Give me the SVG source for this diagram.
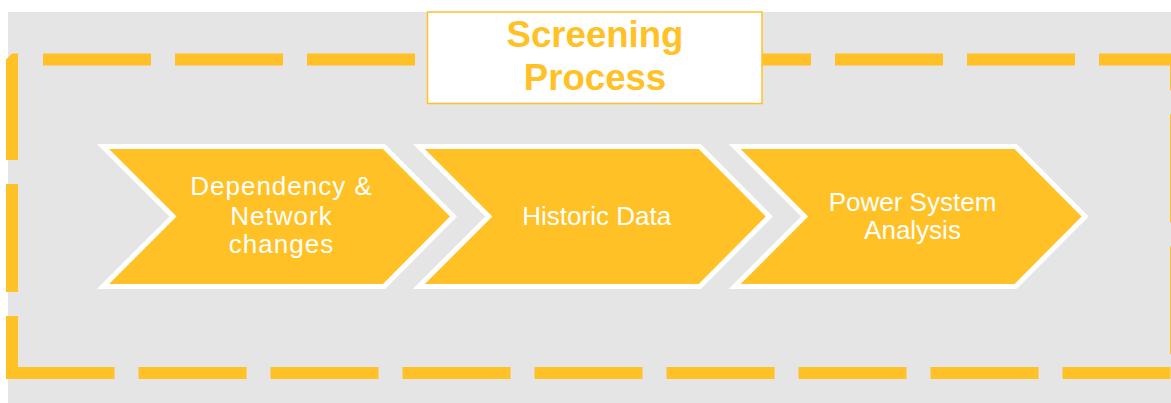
<svg xmlns="http://www.w3.org/2000/svg" width="1171" height="403" viewBox="0 0 1171 403">
  <style>
    .frame { fill: none; stroke: #FFC125; stroke-width: 12; stroke-linecap: butt; }
    .chev { fill: #FFC125; stroke: #FFFFFF; stroke-width: 5; stroke-linejoin: miter; stroke-miterlimit: 10; }
    .lbl { font-family: "Liberation Sans", Arial, sans-serif; font-size: 26px; fill: #FFFFFF; text-anchor: middle; }
    .title { font-family: "Liberation Sans", Arial, sans-serif; font-size: 36.6px; font-weight: bold; fill: #FFC125; text-anchor: middle; }
  </style>
  <rect x="0" y="0" width="1171" height="403" fill="#FFFFFF"/>
  <rect x="8" y="12" width="1163" height="391" fill="#E5E5E5"/>
  <g id="frame">
    <path class="frame" d="M43 59.5 H1176 V373 H12" stroke-dasharray="108 24" stroke-linejoin="miter"/>
    <path class="frame" d="M18 59.5 H12 V379" stroke-dasharray="106.5 24 108 24 70 10" stroke-linejoin="bevel"/>
  </g>
  <g id="title">
    <rect x="427.5" y="12" width="334.5" height="91.5" fill="#FFFFFF" stroke="#FFC125" stroke-width="1.5"/>
    <text class="title" x="595" y="47">Screening</text>
    <text class="title" x="595" y="90">Process</text>
  </g>
  <g id="connectors"></g>
  <g id="node1">
    <polygon class="chev" points="103,146.5 384,146.5 453.5,216.5 384,286.5 103,286.5 173,216.5"/>
    <text class="lbl" x="281.5" y="195" letter-spacing="1">Dependency &amp;</text>
    <text class="lbl" x="281.5" y="224.5" letter-spacing="1">Network</text>
    <text class="lbl" x="281.5" y="253" letter-spacing="1">changes</text>
  </g>
  <g id="node2">
    <polygon class="chev" points="418.8,146.5 699.8,146.5 769.3,216.5 699.8,286.5 418.8,286.5 488.8,216.5"/>
    <text class="lbl" x="596.7" y="225">Historic Data</text>
  </g>
  <g id="node3">
    <polygon class="chev" points="734.6,146.5 1015.6,146.5 1085.1,216.5 1015.6,286.5 734.6,286.5 804.6,216.5"/>
    <text class="lbl" x="912.5" y="210.5">Power System</text>
    <text class="lbl" x="912.5" y="238.5">Analysis</text>
  </g>
</svg>
